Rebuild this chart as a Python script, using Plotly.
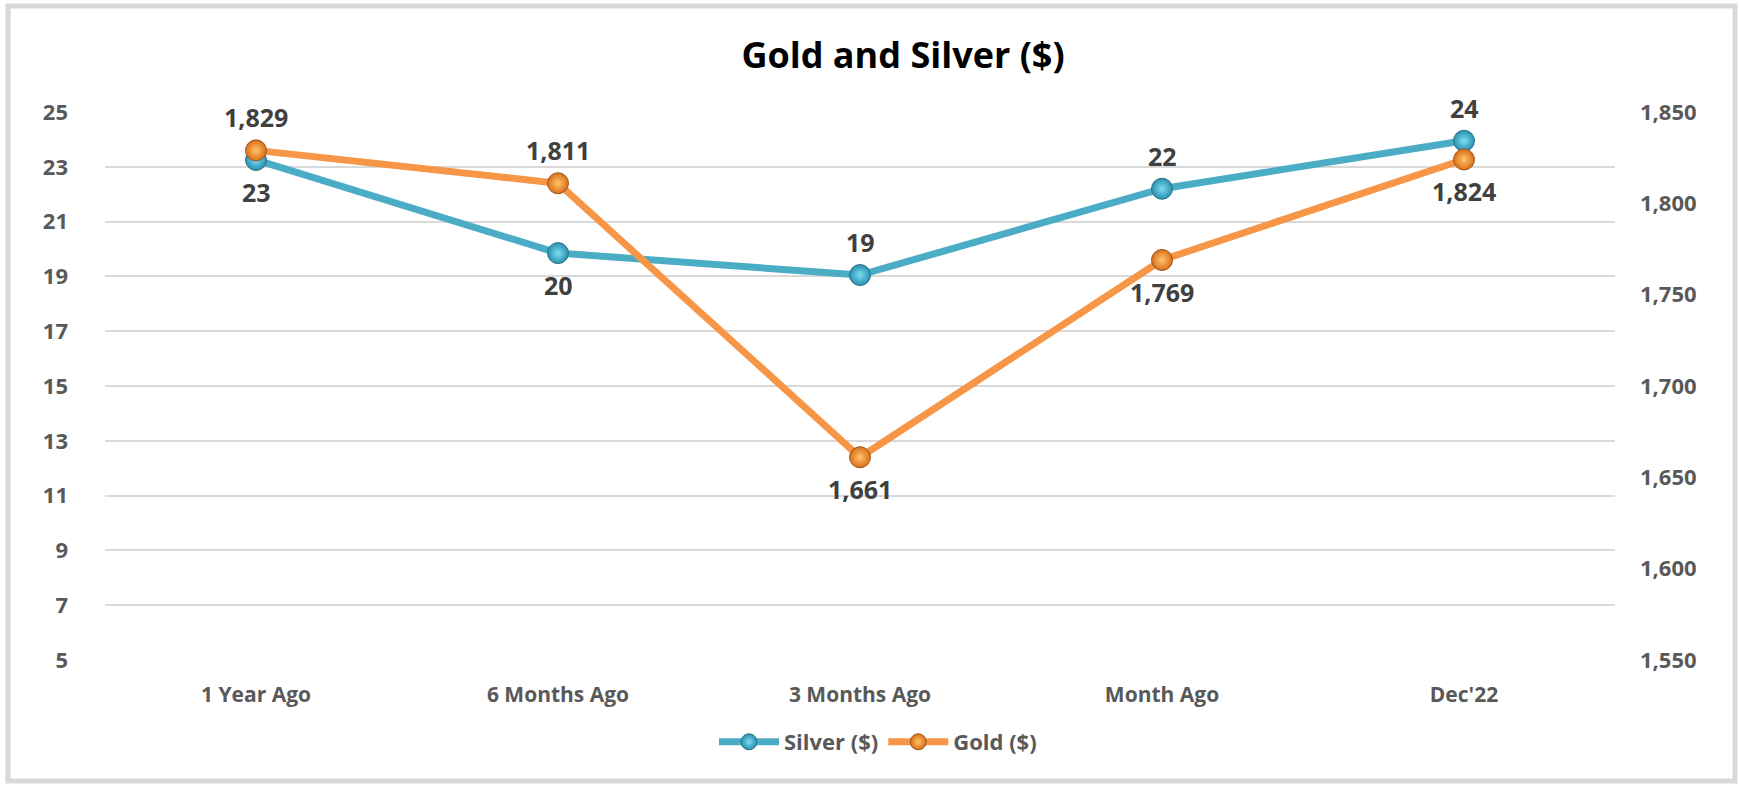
import plotly.graph_objects as go

categories = ["1 Year Ago", "6 Months Ago", "3 Months Ago", "Month Ago", "Dec'22"]
silver = [23.25, 19.85, 19.05, 22.2, 23.95]
gold = [1829, 1811, 1661, 1769, 1824]
silver_labels = ["23", "20", "19", "22", "24"]
gold_labels = ["1,829", "1,811", "1,661", "1,769", "1,824"]
silver_side = ["below", "below", "above", "above", "above"]
gold_side = ["above", "above", "below", "below", "below"]
left_ticks = list(range(5, 26, 2))
right_ticks = list(range(1550, 1851, 50))

W, H = 1739, 786
L, R, T, B = 105, 1615, 112, 660

SILVER = "#4BACC6"
GOLD = "#F79646"
TXT = "#595959"
LBL = "#404040"
FONT = "Open Sans"
SHIFT = {"above": 33, "below": -32}

fig = go.Figure()
fig.add_trace(go.Scatter(
    x=categories, y=silver, name="Silver ($)", mode="lines+markers",
    line=dict(color=SILVER, width=7),
    marker=dict(size=21, color="#2790AE", line=dict(color="#2A7487", width=1),
                gradient=dict(type="radial", color="#7FDDF3")),
    yaxis="y",
))
fig.add_trace(go.Scatter(
    x=categories, y=gold, name="Gold ($)", mode="lines+markers",
    line=dict(color=GOLD, width=7),
    marker=dict(size=21, color="#DC6E16", line=dict(color="#9A5520", width=1),
                gradient=dict(type="radial", color="#FFC46E")),
    yaxis="y2",
))

annotations = []
for c, v, t, s in zip(categories, silver, silver_labels, silver_side):
    annotations.append(dict(x=c, y=v, xref="x", yref="y", text=f"<b>{t}</b>",
                            showarrow=False, yshift=SHIFT[s],
                            font=dict(family=FONT, size=25, color=LBL)))
for c, v, t, s in zip(categories, gold, gold_labels, gold_side):
    annotations.append(dict(x=c, y=v, xref="x", yref="y2", text=f"<b>{t}</b>",
                            showarrow=False, yshift=SHIFT[s],
                            font=dict(family=FONT, size=25, color=LBL)))

def px(x):
    return (x - L) / (R - L)

def py(y):
    return (B - y) / (B - T)

tickfont = dict(family=FONT, size=21, color=TXT, weight="bold")
ytickfont = dict(family=FONT, size=22, color=TXT, weight="bold")

fig.update_layout(
    width=W, height=H,
    margin=dict(l=L, r=W - R, t=T, b=H - B),
    paper_bgcolor="white", plot_bgcolor="white",
    title=dict(text="<b>Gold and Silver ($)</b>", x=px(903), xanchor="center",
               xref="paper", y=1 - 55 / H, yanchor="middle", yref="container",
               font=dict(family=FONT, size=36, color="black")),
    xaxis=dict(range=[-0.5, 4.5], showgrid=False, zeroline=False, showline=False,
               ticks="", ticklabelstandoff=20, tickfont=tickfont),
    yaxis=dict(range=[5, 25], tickvals=left_ticks, showgrid=True, gridcolor="#D9D9D9",
               gridwidth=1.5, zeroline=False, showline=False, ticks="",
               ticklabelstandoff=36, tickfont=ytickfont),
    yaxis2=dict(range=[1550, 1850], tickvals=right_ticks, tickformat=",",
                overlaying="y", side="right", showgrid=False, zeroline=False,
                showline=False, ticks="", ticklabelstandoff=24, tickfont=ytickfont),
    legend=dict(orientation="h", x=px(878), xanchor="center", y=py(742), yanchor="middle",
                font=dict(family=FONT, size=22, color=TXT, weight="bold"),
                itemwidth=60, traceorder="normal"),
    annotations=annotations,
    shapes=[dict(type="rect", xref="paper", yref="paper",
                 x0=px(8), x1=px(1735), y0=py(6), y1=py(781),
                 line=dict(color="#D9D9D9", width=5), layer="below")],
)

fig.write_html("out.html")
